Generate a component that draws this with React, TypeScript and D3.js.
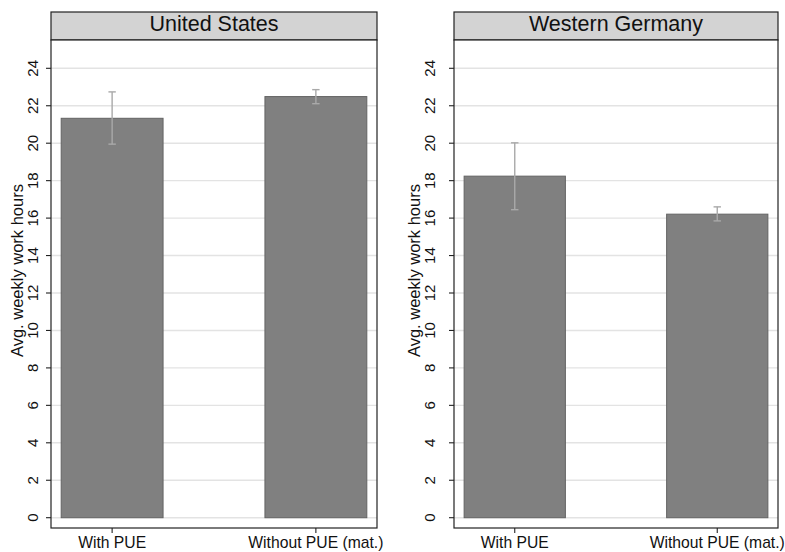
import React from "react";
import * as d3 from "d3";

const categories = ["With PUE", "Without PUE (mat.)"];
const panels = ["United States", "Western Germany"];
const usValues = [21.33, 22.49];
const usLow = [19.95, 22.11];
const usHigh = [22.74, 22.86];
const wgValues = [18.24, 16.21];
const wgLow = [16.45, 15.85];
const wgHigh = [20.02, 16.6];
const yTicks = [0, 2, 4, 6, 8, 10, 12, 14, 16, 18, 20, 22, 24];
const yLabel = "Avg. weekly work hours";

const panelData = [
  { title: panels[0], values: usValues, low: usLow, high: usHigh },
  { title: panels[1], values: wgValues, low: wgLow, high: wgHigh },
];

const W = 785;
const H = 552;
const layouts = [
  { x0: 51, x1: 377, tickX: 37.5, labelX: 23 },
  { x0: 454, x1: 778, tickX: 434.5, labelX: 420 },
];
const headerTop = 12;
const plotTop = 40;
const plotBottom = 528;
const FONT = "'Liberation Sans', Arial, Helvetica, sans-serif";

function Panel({ d, l }: { d: typeof panelData[0]; l: typeof layouts[0] }) {
  const y = d3.scaleLinear().domain([0, 24]).range([517.7, 68.3]);
  const x = d3
    .scaleBand<string>()
    .domain(categories)
    .range([l.x0, l.x1])
    .paddingInner(0.5)
    .paddingOuter(0.05);
  const bw = x.bandwidth();
  return (
    <g>
      <rect
        x={l.x0}
        y={headerTop}
        width={l.x1 - l.x0}
        height={plotTop - headerTop}
        fill="#d3d3d3"
        stroke="#222"
        strokeWidth={1.2}
      />
      <text
        x={(l.x0 + l.x1) / 2}
        y={31}
        textAnchor="middle"
        fontSize={21.5}
        fontFamily={FONT}
        fill="#111"
      >
        {d.title}
      </text>
      <rect x={l.x0} y={plotTop} width={l.x1 - l.x0} height={plotBottom - plotTop} fill="#fff" />
      {yTicks.map((t) => (
        <line
          key={"g" + t}
          x1={l.x0}
          x2={l.x1}
          y1={y(t)}
          y2={y(t)}
          stroke="#e3e3e3"
          strokeWidth={1.4}
        />
      ))}
      {categories.map((c, i) => (
        <rect
          key={"b" + c}
          x={x(c)!}
          y={y(d.values[i])}
          width={bw}
          height={y(0) - y(d.values[i])}
          fill="#808080"
          stroke="#636363"
          strokeWidth={1}
        />
      ))}
      {categories.map((c, i) => {
        const cx = x(c)! + bw / 2;
        return (
          <g key={"e" + c} stroke="#a9a9a9" strokeWidth={1.4}>
            <line x1={cx} x2={cx} y1={y(d.high[i])} y2={y(d.low[i])} />
            <line x1={cx - 3.7} x2={cx + 3.7} y1={y(d.high[i])} y2={y(d.high[i])} />
            <line x1={cx - 3.7} x2={cx + 3.7} y1={y(d.low[i])} y2={y(d.low[i])} />
          </g>
        );
      })}
      <rect
        x={l.x0}
        y={plotTop}
        width={l.x1 - l.x0}
        height={plotBottom - plotTop}
        fill="none"
        stroke="#222"
        strokeWidth={1.2}
      />
      {yTicks.map((t) => (
        <g key={"t" + t}>
          <line x1={l.x0 - 5} x2={l.x0} y1={y(t)} y2={y(t)} stroke="#222" strokeWidth={1.1} />
          <text
            transform={`translate(${l.tickX},${y(t)}) rotate(-90)`}
            textAnchor="middle"
            fontSize={15}
            fontFamily={FONT}
            fill="#111"
          >
            {t}
          </text>
        </g>
      ))}
      {categories.map((c) => {
        const cx = x(c)! + bw / 2;
        return (
          <g key={"x" + c}>
            <line x1={cx} x2={cx} y1={plotBottom} y2={plotBottom + 5} stroke="#222" strokeWidth={1.1} />
            <text
              x={cx}
              y={548}
              textAnchor="middle"
              fontSize={15.7}
              fontFamily={FONT}
              fill="#111"
            >
              {c}
            </text>
          </g>
        );
      })}
      <text
        transform={`translate(${l.labelX},${y(13.2)}) rotate(-90)`}
        textAnchor="middle"
        fontSize={16.5}
        fontFamily={FONT}
        fill="#111"
      >
        {yLabel}
      </text>
    </g>
  );
}

export default function App() {
  return (
    <svg
      width={W}
      height={H}
      style={{ position: "absolute", left: 0, top: 0, background: "#fff" }}
    >
      <rect width={W} height={H} fill="#fff" />
      {panelData.map((d, i) => (
        <Panel key={d.title} d={d} l={layouts[i]} />
      ))}
    </svg>
  );
}
